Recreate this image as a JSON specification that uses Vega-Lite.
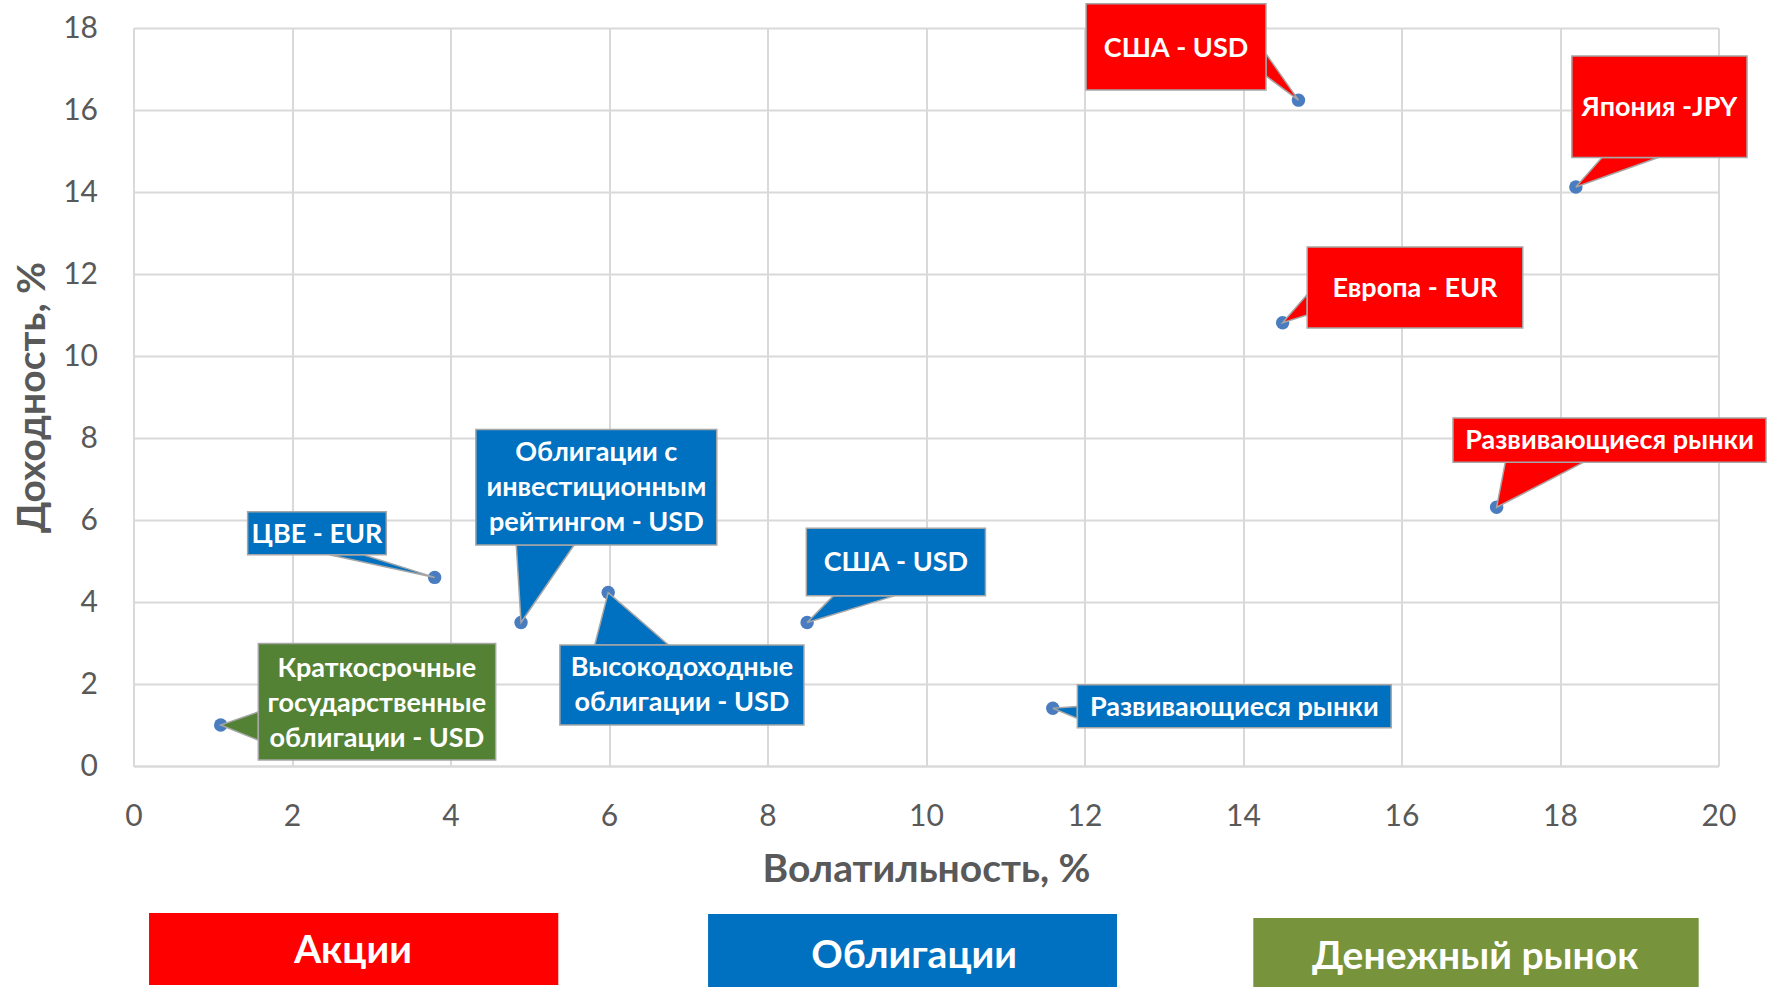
{
  "$schema": "https://vega.github.io/schema/vega-lite/v6.json",
  "width": 1585,
  "height": 738,
  "autosize": {"type": "none"},
  "padding": {"left": 133.5, "top": 28, "right": 55.5, "bottom": 221},
  "background": "white",
  "config": {"view": {"stroke": null}, "font": "Lato"},
  "datasets": {
    "callouts": [
      {"id": "us_eq", "cat": "Акции", "label": "США - USD", "px": 14.7, "py": 16.24, "x1": 12.02, "x2": 14.29, "y1": 16.49, "y2": 18.59, "tx": 13.155, "ty": 17.5},
      {"id": "jp", "cat": "Акции", "label": "Япония -JPY", "px": 18.2, "py": 14.12, "x1": 18.15, "x2": 20.36, "y1": 14.84, "y2": 17.32, "tx": 19.255, "ty": 16.04},
      {"id": "eu", "cat": "Акции", "label": "Европа - EUR", "px": 14.5, "py": 10.81, "x1": 14.81, "x2": 17.53, "y1": 10.68, "y2": 12.66, "tx": 16.17, "ty": 11.63},
      {"id": "em_eq", "cat": "Акции", "label": "Развивающиеся рынки", "px": 17.2, "py": 6.31, "x1": 16.65, "x2": 20.6, "y1": 7.41, "y2": 8.49, "tx": 18.625, "ty": 7.92},
      {"id": "cee", "cat": "Облигации", "label": "ЦВЕ - EUR", "px": 3.8, "py": 4.6, "x1": 1.44, "x2": 3.19, "y1": 5.15, "y2": 6.2, "tx": 2.315, "ty": 5.64},
      {"id": "ig", "cat": "Облигации", "label": ["Облигации с", "инвестиционным", "рейтингом - USD"], "px": 4.89, "py": 3.5, "x1": 4.32, "x2": 7.36, "y1": 5.39, "y2": 8.21, "tx": 5.84, "ty": 7.64},
      {"id": "hy", "cat": "Облигации", "label": ["Высокодоходные", "облигации - USD"], "px": 5.99, "py": 4.23, "x1": 5.38, "x2": 8.46, "y1": 1.0, "y2": 2.95, "tx": 6.92, "ty": 2.38},
      {"id": "us_b", "cat": "Облигации", "label": "США - USD", "px": 8.5, "py": 3.5, "x1": 8.49, "x2": 10.75, "y1": 4.15, "y2": 5.8, "tx": 9.62, "ty": 4.94},
      {"id": "em_b", "cat": "Облигации", "label": "Развивающиеся рынки", "px": 11.6, "py": 1.41, "x1": 11.91, "x2": 15.87, "y1": 0.93, "y2": 1.98, "tx": 13.89, "ty": 1.42},
      {"id": "tb", "cat": "Денежный рынок", "label": ["Краткосрочные", "государственные", "облигации - USD"], "px": 1.1, "py": 1.0, "x1": 1.575, "x2": 4.57, "y1": 0.146, "y2": 2.99, "tx": 3.07, "ty": 2.37}
    ],
    "wedges": [
      {"id": "us_eq", "cat": "Акции", "ord": 1, "x": 14.29, "y": 17.37},
      {"id": "us_eq", "cat": "Акции", "ord": 2, "x": 14.7, "y": 16.24},
      {"id": "us_eq", "cat": "Акции", "ord": 3, "x": 14.29, "y": 16.83},
      {"id": "us_eq", "cat": "Акции", "ord": 4, "x": 14.29, "y": 17.37},
      {"id": "jp", "cat": "Акции", "ord": 1, "x": 18.53, "y": 14.84},
      {"id": "jp", "cat": "Акции", "ord": 2, "x": 18.2, "y": 14.12},
      {"id": "jp", "cat": "Акции", "ord": 3, "x": 19.24, "y": 14.84},
      {"id": "jp", "cat": "Акции", "ord": 4, "x": 18.53, "y": 14.84},
      {"id": "eu", "cat": "Акции", "ord": 1, "x": 14.81, "y": 11.5},
      {"id": "eu", "cat": "Акции", "ord": 2, "x": 14.5, "y": 10.81},
      {"id": "eu", "cat": "Акции", "ord": 3, "x": 14.81, "y": 11.0},
      {"id": "eu", "cat": "Акции", "ord": 4, "x": 14.81, "y": 11.5},
      {"id": "em_eq", "cat": "Акции", "ord": 1, "x": 17.31, "y": 7.41},
      {"id": "em_eq", "cat": "Акции", "ord": 2, "x": 17.2, "y": 6.31},
      {"id": "em_eq", "cat": "Акции", "ord": 3, "x": 18.3, "y": 7.41},
      {"id": "em_eq", "cat": "Акции", "ord": 4, "x": 17.31, "y": 7.41},
      {"id": "cee", "cat": "Облигации", "ord": 1, "x": 2.47, "y": 5.15},
      {"id": "cee", "cat": "Облигации", "ord": 2, "x": 3.8, "y": 4.6},
      {"id": "cee", "cat": "Облигации", "ord": 3, "x": 2.9, "y": 5.15},
      {"id": "cee", "cat": "Облигации", "ord": 4, "x": 2.47, "y": 5.15},
      {"id": "ig", "cat": "Облигации", "ord": 1, "x": 4.83, "y": 5.39},
      {"id": "ig", "cat": "Облигации", "ord": 2, "x": 4.89, "y": 3.5},
      {"id": "ig", "cat": "Облигации", "ord": 3, "x": 5.56, "y": 5.39},
      {"id": "ig", "cat": "Облигации", "ord": 4, "x": 4.83, "y": 5.39},
      {"id": "hy", "cat": "Облигации", "ord": 1, "x": 5.82, "y": 2.95},
      {"id": "hy", "cat": "Облигации", "ord": 2, "x": 5.99, "y": 4.23},
      {"id": "hy", "cat": "Облигации", "ord": 3, "x": 6.75, "y": 2.95},
      {"id": "hy", "cat": "Облигации", "ord": 4, "x": 5.82, "y": 2.95},
      {"id": "us_b", "cat": "Облигации", "ord": 1, "x": 8.83, "y": 4.15},
      {"id": "us_b", "cat": "Облигации", "ord": 2, "x": 8.5, "y": 3.5},
      {"id": "us_b", "cat": "Облигации", "ord": 3, "x": 9.6, "y": 4.15},
      {"id": "us_b", "cat": "Облигации", "ord": 4, "x": 8.83, "y": 4.15},
      {"id": "em_b", "cat": "Облигации", "ord": 1, "x": 11.91, "y": 1.45},
      {"id": "em_b", "cat": "Облигации", "ord": 2, "x": 11.6, "y": 1.41},
      {"id": "em_b", "cat": "Облигации", "ord": 3, "x": 11.91, "y": 1.16},
      {"id": "em_b", "cat": "Облигации", "ord": 4, "x": 11.91, "y": 1.45},
      {"id": "tb", "cat": "Денежный рынок", "ord": 1, "x": 1.575, "y": 1.32},
      {"id": "tb", "cat": "Денежный рынок", "ord": 2, "x": 1.1, "y": 1.0},
      {"id": "tb", "cat": "Денежный рынок", "ord": 3, "x": 1.575, "y": 0.63},
      {"id": "tb", "cat": "Денежный рынок", "ord": 4, "x": 1.575, "y": 1.32}
    ],
    "legend": [
      {"cat": "Акции", "x1": 0.196, "x2": 5.36, "y1": -5.34, "y2": -3.585, "tx": 2.77, "ty": -4.5},
      {"cat": "Облигации", "x1": 7.25, "x2": 12.41, "y1": -5.5, "y2": -3.61, "tx": 9.85, "ty": -4.63},
      {"cat": "Денежный рынок", "x1": 14.13, "x2": 19.75, "y1": -5.5, "y2": -3.71, "tx": 16.93, "ty": -4.66}
    ]
  },
  "layer": [
    {
      "data": {"name": "callouts"},
      "mark": {"type": "circle", "size": 180, "color": "#4A7DC0", "opacity": 1},
      "encoding": {
        "x": {
          "field": "px", "type": "quantitative", "title": "Волатильность, %",
          "scale": {"domain": [0, 20], "nice": false, "zero": false},
          "axis": {
            "values": [0, 2, 4, 6, 8, 10, 12, 14, 16, 18, 20], "format": "d",
            "grid": true, "gridColor": "#D9D9D9", "gridWidth": 2,
            "domainColor": "#D9D9D9", "domainWidth": 2, "ticks": false,
            "labelFont": "Lato", "labelFontSize": 30, "labelColor": "#595959",
            "labelPadding": 35, "labelFlush": false, "labelOverlap": false,
            "titleFont": "Lato", "titleFontSize": 39, "titleFontWeight": "bold",
            "titleColor": "#595959", "titlePadding": 19
          }
        },
        "y": {
          "field": "py", "type": "quantitative", "title": "Доходность, %",
          "scale": {"domain": [0, 18], "nice": false, "zero": false},
          "axis": {
            "values": [0, 2, 4, 6, 8, 10, 12, 14, 16, 18], "format": "d",
            "grid": true, "gridColor": "#D9D9D9", "gridWidth": 2,
            "domainColor": "#D9D9D9", "domainWidth": 2, "ticks": false,
            "labelFont": "Lato", "labelFontSize": 30, "labelColor": "#595959",
            "labelPadding": 36, "labelFlush": false, "labelOverlap": false,
            "titleFont": "Lato", "titleFontSize": 39, "titleFontWeight": "bold",
            "titleColor": "#595959", "titlePadding": 10
          }
        }
      }
    },
    {
      "data": {"name": "wedges"},
      "mark": {"type": "line", "stroke": "#A6A6A6", "strokeWidth": 1.5, "strokeJoin": "miter"},
      "encoding": {
        "x": {"field": "x", "type": "quantitative", "title": "Волатильность, %"},
        "y": {"field": "y", "type": "quantitative", "title": "Доходность, %"},
        "detail": {"field": "id"},
        "order": {"field": "ord", "type": "quantitative"},
        "fill": {
          "field": "cat", "type": "nominal", "legend": null,
          "scale": {"domain": ["Акции", "Облигации", "Денежный рынок"], "range": ["#FF0000", "#0070C0", "#548235"]}
        }
      }
    },
    {
      "data": {"name": "callouts"},
      "mark": {"type": "rect", "stroke": "#A6A6A6", "strokeWidth": 1.5},
      "encoding": {
        "x": {"field": "x1", "type": "quantitative", "title": "Волатильность, %"},
        "x2": {"field": "x2"},
        "y": {"field": "y1", "type": "quantitative", "title": "Доходность, %"},
        "y2": {"field": "y2"},
        "fill": {
          "field": "cat", "type": "nominal", "legend": null,
          "scale": {"domain": ["Акции", "Облигации", "Денежный рынок"], "range": ["#FF0000", "#0070C0", "#548235"]}
        }
      }
    },
    {
      "data": {"name": "callouts"},
      "mark": {"type": "text", "font": "Lato", "fontSize": 27, "fontWeight": "bold", "color": "#FFFFFF", "align": "center", "baseline": "middle", "lineHeight": 35},
      "encoding": {
        "x": {"field": "tx", "type": "quantitative", "title": "Волатильность, %"},
        "y": {"field": "ty", "type": "quantitative", "title": "Доходность, %"},
        "text": {"field": "label"}
      }
    },
    {
      "data": {"name": "legend"},
      "mark": {"type": "rect"},
      "encoding": {
        "x": {"field": "x1", "type": "quantitative", "title": "Волатильность, %"},
        "x2": {"field": "x2"},
        "y": {"field": "y1", "type": "quantitative", "title": "Доходность, %"},
        "y2": {"field": "y2"},
        "color": {
          "field": "cat", "type": "nominal", "legend": null,
          "scale": {"domain": ["Акции", "Облигации", "Денежный рынок"], "range": ["#FF0000", "#0070C0", "#77933C"]}
        }
      }
    },
    {
      "data": {"name": "legend"},
      "mark": {"type": "text", "font": "Lato", "fontSize": 39, "fontWeight": "bold", "color": "#FFFFFF", "align": "center", "baseline": "middle"},
      "encoding": {
        "x": {"field": "tx", "type": "quantitative", "title": "Волатильность, %"},
        "y": {"field": "ty", "type": "quantitative", "title": "Доходность, %"},
        "text": {"field": "cat"}
      }
    }
  ]
}
